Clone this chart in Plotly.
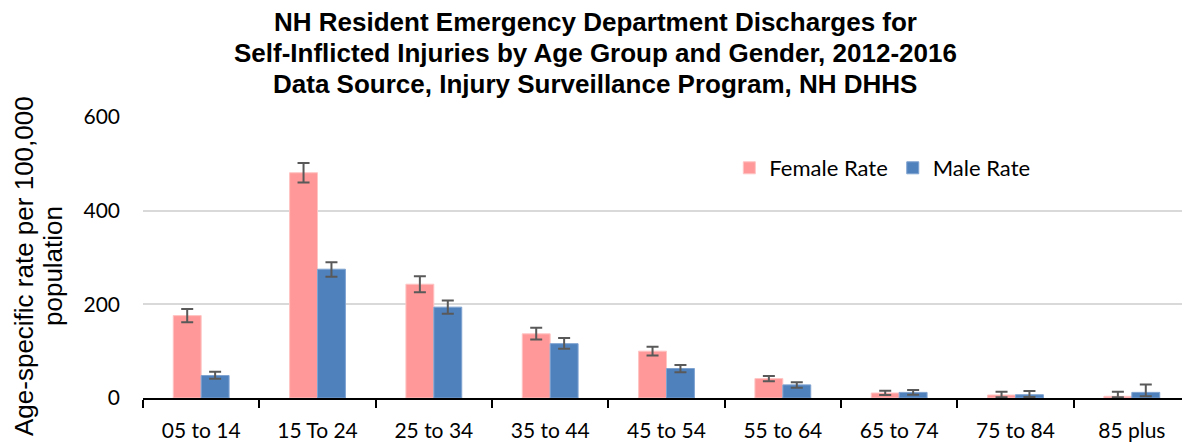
import plotly.graph_objects as go

age_groups = ["05 to 14", "15 To 24", "25 to 34", "35 to 44", "45 to 54",
              "55 to 64", "65 to 74", "75 to 84", "85 plus"]

female_rate = [176, 481, 243, 137, 100, 41.5, 10.7, 6.4, 3.6]
female_err_plus = [14, 21, 17, 13, 9.5, 5.5, 5, 7, 9.5]
female_err_minus = [14, 21, 17, 12, 9.5, 5.5, 4.5, 5, 2]

male_rate = [48, 275, 194, 116, 63, 28, 12, 7, 12]
male_err_plus = [8, 15, 14, 12, 7.5, 5.5, 5, 8, 17]
male_err_minus = [7, 16, 14, 11, 8, 6, 5, 5, 8]

title_lines = ["NH Resident Emergency Department Discharges for",
               "Self-Inflicted Injuries by Age Group and Gender, 2012-2016",
               "Data Source, Injury Surveillance Program, NH DHHS"]
y_title_lines = ["Age-specific rate per 100,000", "population"]

fig = go.Figure()
fig.add_trace(go.Bar(
    x=age_groups, y=female_rate, name="Female Rate",
    marker=dict(color="#FF9999", line=dict(color="#FFC4C4", width=1)),
    error_y=dict(type="data", symmetric=False, array=female_err_plus,
                 arrayminus=female_err_minus, color="#595959", thickness=2, width=6),
))
fig.add_trace(go.Bar(
    x=age_groups, y=male_rate, name="Male Rate",
    marker=dict(color="#4F81BD", line=dict(color="#7FA3D0", width=1)),
    error_y=dict(type="data", symmetric=False, array=male_err_plus,
                 arrayminus=male_err_minus, color="#595959", thickness=2, width=6),
))

# plot area in page pixels (page has an 8px body margin)
left, top, bottom, plot_w = 143, 117, 398, 1047

def paper_x(px):
    return (px - left) / plot_w

def paper_y(py):
    return (bottom - py) / (bottom - top)

# title as three separate lines
for line, py in zip(title_lines, [22, 53, 84]):
    fig.add_annotation(text="<b>%s</b>" % line, x=paper_x(595), xref="paper",
                       y=paper_y(py), yref="paper",
                       showarrow=False, xanchor="center", yanchor="middle",
                       font=dict(family="Liberation Sans, Arial", size=26, color="black"))

# y-axis title, two rotated lines
for text, px in zip(y_title_lines, [24, 53]):
    fig.add_annotation(text=text, x=paper_x(px), xref="paper",
                       y=paper_y(266), yref="paper",
                       textangle=-90, showarrow=False,
                       xanchor="center", yanchor="middle",
                       font=dict(family="Liberation Sans, Arial", size=26, color="black"))

fig.update_layout(
    width=1182, height=435,
    margin=dict(l=135, r=0, t=109, b=45),
    paper_bgcolor="white", plot_bgcolor="white",
    barmode="group", bargap=0.52, bargroupgap=0,
    font=dict(family="Lato, Carlito, Calibri, sans-serif", size=21, color="black"),
    legend=dict(orientation="h", x=0.56, y=paper_y(168), xanchor="left", yanchor="middle",
                font=dict(size=22), bgcolor="rgba(0,0,0,0)", traceorder="normal"),
    showlegend=True,
)
fig.update_yaxes(range=[0, 600], tickvals=[0, 200, 400, 600],
                 showgrid=True, gridcolor="#D9D9D9", gridwidth=1.5,
                 zeroline=False, showline=False, ticks="", ticklabelstandoff=22)
fig.update_xaxes(showline=True, linecolor="black", linewidth=2,
                 ticks="outside", tickson="boundaries", ticklen=8, tickwidth=2,
                 tickcolor="black", showgrid=False, ticklabelstandoff=13)

fig.write_html("out.html")
